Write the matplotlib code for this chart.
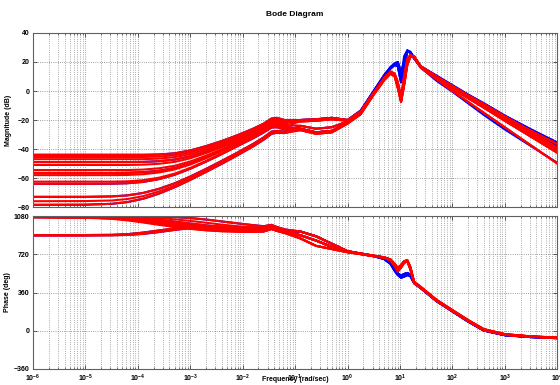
import matplotlib
matplotlib.use("Agg")
import matplotlib.pyplot as plt
from matplotlib.ticker import LogLocator, NullFormatter, FixedLocator

# frequency points (rad/sec): low band, then mid/high band
freq_low = [1e-6, 1e-5, 3.16e-5, 6.31e-5, 1.26e-4, 2.51e-4, 5.01e-4, 1e-3, 2e-3,
            3.98e-3, 7.94e-3, 1.58e-2, 2.51e-2, 3.55e-2, 4.47e-2, 6.31e-2]
freq_high = [0.126, 0.251, 0.501, 1.0, 1.78, 3.16, 5.01, 6.61, 7.94, 9.12, 10.5, 12.0,
             13.8, 15.8, 18.6, 25.1, 50.1, 100, 200, 398, 1000, 3160, 10000]

# magnitude (dB) below 0.1 rad/sec, one row per model
mag_low = [
    [-44, -44, -44, -44, -44, -43.8, -43, -41, -38, -34.5, -30.5, -26, -22.5, -19, -18.5, -20],
    [-45.5, -45.5, -45.5, -45.5, -45.5, -45.2, -44.3, -42.3, -39.2, -35.6, -31.5, -27, -23.5, -20, -19.5, -20.5],
    [-47, -47, -47, -47, -47, -46.6, -45.6, -43.5, -40.3, -36.6, -32.4, -27.8, -24.3, -20.8, -20.3, -21.5],
    [-49, -49, -49, -49, -48.9, -48.4, -47.3, -45, -41.6, -37.8, -33.3, -28.6, -25, -21.5, -21, -22],
    [-51, -51, -51, -51, -50.8, -50.2, -48.9, -46.4, -42.8, -38.8, -34.2, -29.3, -25.6, -22.2, -21.8, -23],
    [-54.5, -54.5, -54.5, -54.5, -54.2, -53.3, -51.6, -48.6, -44.6, -40.2, -35.2, -30.1, -26.3, -23, -22.7, -24],
    [-56.5, -56.5, -56.5, -56.4, -56, -55, -53.1, -49.9, -45.6, -41, -35.9, -30.7, -26.9, -23.5, -23.2, -24.5],
    [-58, -58, -58, -57.9, -57.4, -56.2, -54.1, -50.7, -46.4, -41.6, -36.4, -31.2, -27.4, -24, -23.8, -25],
    [-62.5, -62.5, -62.5, -62.3, -61.5, -59.8, -57, -53, -48.2, -43, -37.6, -32.2, -28.2, -24.7, -24.5, -26],
    [-64, -64, -63.9, -63.6, -62.7, -60.8, -57.8, -53.6, -48.7, -43.5, -38, -32.6, -28.6, -25.2, -25, -26.5],
    [-73, -73, -72.7, -72, -70.3, -67.5, -63.7, -59, -53.7, -48.2, -42.5, -36.5, -32, -28, -27.5, -28],
    [-76, -75.9, -75.5, -74.5, -72.5, -69.3, -65.2, -60.3, -55, -49.4, -43.6, -37.5, -33, -28.8, -28.2, -28.5],
    [-78.5, -78.4, -77.8, -76.6, -74.3, -70.8, -66.4, -61.3, -55.8, -50.2, -44.3, -38.2, -33.6, -29.5, -28.8, -29],
]

# magnitude (dB) above 0.1 rad/sec, shared shapes
mag_high = {
    "RA": [-20, -19.5, -18.5, -20, -14, -1, 9, 13.5, 12, 6, -4, 10, 22, 25, 23, 17, 10, 3.5, -3, -9, -17.5, -27.5, -36.5],
    "RB": [-21, -20.5, -19.5, -20.5, -14.5, -1.5, 8.5, 13, 11, 4, -6, 7, 20, 24.5, 23.5, 17, 9.5, 2.5, -4, -10.5, -19, -29, -39],
    "RC": [-26, -28.5, -27.5, -22, -15.5, -2, 8, 12.5, 10.5, 3, -7, 5, 19, 24, 24, 16.5, 9, 2, -4.5, -11, -19.5, -30, -40.5],
    "RD": [-27, -29.5, -28.5, -22.5, -16, -2.5, 7.5, 12, 10, 2, -7.5, 4, 18, 23.5, 24, 16.5, 8.5, 1.5, -5, -11.5, -20.5, -31.5, -42.5],
    "RE": [-24, -26, -25, -21, -15, -1.5, 8.5, 13, 11, 5, -5, 8, 21, 24.5, 23, 16, 8, 0, -7.5, -15, -25, -37.5, -50],
    "BA": [-20, -19.5, -18.5, -20, -13.5, 0, 11, 16.5, 19, 20, 13, 20, 28, 27, 23, 17, 10.5, 4, -2.5, -8.5, -17, -26.5, -35.5],
    "BB": [-26, -28.5, -27.5, -22, -14.5, -0.5, 10, 15.5, 18, 17, 6, 16, 27.5, 26.5, 22.5, 16.5, 10, 3.5, -3, -9.5, -18, -28, -38],
    "BC": [-24, -26, -25, -21, -14, 0, 10.5, 16, 18.5, 18, 9, 24, 28, 26, 22.5, 16, 7, -0.5, -8.5, -16.5, -26.5, -38, -49.5],
}

# phase (deg) below 0.1 rad/sec, one row per model
phase_low = [
    [1080, 1080, 1080, 1080, 1079, 1077, 1072, 1062, 1048, 1030, 1012, 995, 985, 998, 978, 955],
    [1078, 1078, 1077, 1075, 1070, 1062, 1050, 1035, 1018, 1000, 985, 972, 965, 985, 965, 945],
    [1075, 1074, 1070, 1062, 1050, 1035, 1018, 1000, 983, 968, 958, 952, 950, 972, 955, 935],
    [1080, 1077, 1068, 1055, 1035, 1012, 990, 970, 955, 945, 938, 935, 936, 960, 943, 923],
    [1072, 1068, 1058, 1045, 1025, 1003, 982, 962, 948, 938, 933, 932, 935, 958, 940, 920],
    [1068, 1064, 1055, 1040, 1020, 998, 978, 960, 946, 938, 935, 935, 938, 960, 942, 922],
    [1080, 1079, 1076, 1070, 1060, 1045, 1028, 1010, 993, 978, 966, 958, 955, 976, 958, 938],
    [1076, 1074, 1068, 1058, 1042, 1022, 1002, 985, 970, 958, 950, 946, 945, 968, 950, 930],
    [900, 900, 901, 905, 918, 938, 960, 978, 985, 982, 978, 975, 975, 992, 972, 950],
    [902, 902, 904, 910, 925, 945, 965, 980, 984, 980, 975, 970, 968, 988, 968, 946],
    [898, 898, 900, 903, 913, 930, 950, 968, 975, 972, 968, 963, 962, 982, 962, 940],
    [1080, 1078, 1073, 1064, 1050, 1032, 1012, 992, 975, 960, 950, 944, 942, 965, 948, 928],
    [1070, 1066, 1060, 1050, 1035, 1015, 995, 975, 958, 946, 940, 938, 940, 962, 946, 926],
]

# phase (deg) above 0.1 rad/sec, shared shapes
phase_high = {
    "PA": [935, 890, 820, 750, 728, 708, 692, 672, 630, 590, 620, 655, 665, 600, 462, 412, 290, 195, 100, 15, -32, -53, -64],
    "PB": [900, 850, 790, 745, 725, 705, 690, 668, 620, 575, 605, 648, 660, 590, 455, 408, 286, 190, 95, 10, -35, -55, -66],
    "PC": [870, 800, 770, 740, 722, 702, 688, 665, 610, 560, 595, 640, 655, 580, 450, 404, 282, 186, 91, 6, -38, -57, -67],
    "QA": [935, 890, 820, 750, 728, 706, 680, 640, 580, 540, 520, 535, 545, 530, 455, 405, 282, 185, 90, 5, -40, -58, -68],
    "QB": [900, 850, 790, 745, 725, 703, 675, 630, 565, 525, 500, 510, 525, 515, 448, 400, 278, 182, 86, 2, -42, -60, -70],
}

# (low row, magnitude shape, phase shape) for each plotted model
red_models = [(0, "RA", "PA"), (1, "RA", "PA"), (2, "RB", "PB"), (3, "RB", "PB"),
              (4, "RE", "PC"), (5, "RB", "PC"), (6, "RC", "PA"), (7, "RC", "PB"),
              (8, "RD", "PA"), (9, "RC", "PB"), (10, "RE", "PC"), (11, "RD", "PB"),
              (12, "RD", "PC")]
blue_models = [(0, "BA", "QA"), (3, "BA", "QB"), (6, "BB", "QA"),
               (9, "BB", "QB"), (10, "BC", "QB"), (12, "BB", "QA")]

mag_ticks = [-80, -60, -40, -20, 0, 20, 40]
phase_ticks = [-360, 0, 360, 720, 1080]

plt.rcParams["font.family"] = ["Liberation Sans", "DejaVu Sans"]
plt.rcParams["font.size"] = 5
plt.rcParams["font.weight"] = "bold"
plt.rcParams["axes.labelweight"] = "bold"
plt.rcParams["axes.titleweight"] = "bold"
plt.rcParams["mathtext.default"] = "bf"

fig = plt.figure(figsize=(5.6, 3.85), dpi=100)
ax1 = fig.add_axes([0.059, 0.4623, 0.936, 0.452])
ax2 = fig.add_axes([0.059, 0.0416, 0.936, 0.397])

freq = freq_low + freq_high
for models, color in ((blue_models, "#0000ff"), (red_models, "#ff0000")):
    for row, mshape, pshape in models:
        ax1.plot(freq, mag_low[row] + mag_high[mshape], color=color, lw=1.5,
                 solid_joinstyle="round")
        ax2.plot(freq, phase_low[row] + phase_high[pshape], color=color, lw=1.5,
                 solid_joinstyle="round")

for ax in (ax1, ax2):
    ax.set_xscale("log")
    ax.set_xlim(1e-6, 1e4)
    ax.xaxis.set_major_locator(LogLocator(base=10, numticks=20))
    ax.xaxis.set_minor_locator(LogLocator(base=10, subs=range(2, 10), numticks=200))
    ax.grid(True, which="major", color="#808080", linestyle=":", lw=0.6)
    ax.grid(True, which="minor", axis="x", color="#909090", linestyle=":", lw=0.6)
    ax.tick_params(which="both", direction="in", top=True, right=True,
                   colors="#404040", labelcolor="black", pad=2.5)
    ax.tick_params(which="major", length=3, width=0.6)
    ax.tick_params(which="minor", length=1.5, width=0.5)
    for s in ax.spines.values():
        s.set_color("#606060")
        s.set_linewidth(0.8)

ax1.set_ylim(-80, 40)
ax1.yaxis.set_major_locator(FixedLocator(mag_ticks))
ax1.xaxis.set_major_formatter(NullFormatter())
ax1.set_ylabel("Magnitude (dB)", labelpad=4)
ax1.set_title("Bode Diagram", pad=12)

ax2.set_ylim(-360, 1080)
ax2.yaxis.set_major_locator(FixedLocator(phase_ticks))
ax2.set_ylabel("Phase (deg)", labelpad=2)
ax2.set_xlabel("Frequency (rad/sec)", labelpad=-5.5)

fig.savefig("out.png", dpi=100)
